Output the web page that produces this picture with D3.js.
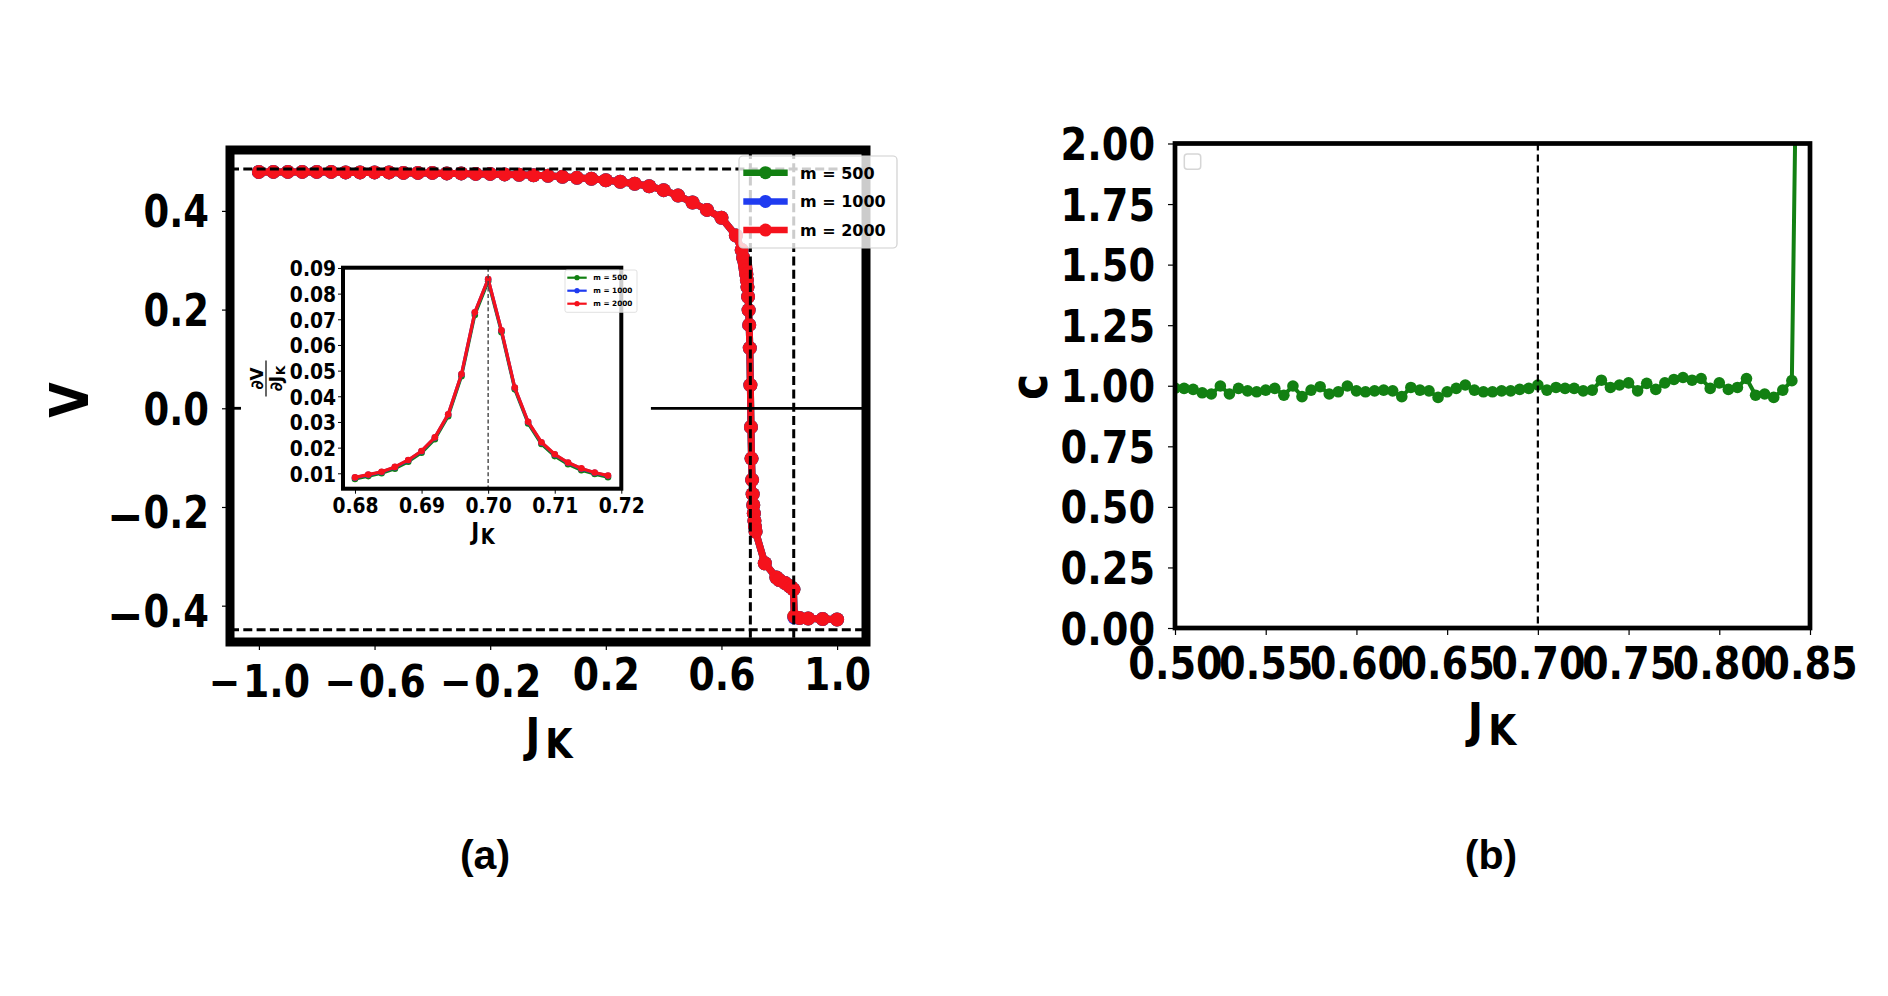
<!DOCTYPE html>
<html><head><meta charset="utf-8">
<script src="https://cdnjs.cloudflare.com/ajax/libs/d3/7.8.5/d3.min.js"></script>
<style>body{margin:0;background:#fff;} svg{display:block}</style>
</head><body>
<script>
// ---------------- DATA ----------------
// Panel (a): V vs J_K
const jkMain = [-1.00,-0.95,-0.90,-0.85,-0.80,-0.75,-0.70,-0.65,-0.60,-0.55,-0.50,-0.45,-0.40,-0.35,-0.30,-0.25,-0.20,
  -0.15,-0.10,-0.05,0.00,0.05,0.10,0.15,0.20,0.25,0.30,0.35,0.40,0.45,0.50,0.55,0.60,0.65,0.67,0.675,
  0.680,0.682,0.684,0.686,0.688,0.690,0.692,0.694,0.696,0.698,0.700,0.702,0.704,0.706,0.708,0.710,0.712,0.714,0.716,0.718,
  0.75,0.79,0.80,0.82,0.835,0.842,0.849,0.852,0.87,0.90,0.95,1.00];
const vM2000 = [0.479,0.479,0.479,0.479,0.479,0.479,0.478,0.478,0.478,0.478,0.477,0.477,0.477,0.476,0.476,0.475,0.475,
  0.474,0.473,0.472,0.471,0.469,0.467,0.465,0.462,0.459,0.455,0.450,0.442,0.431,0.417,0.402,0.386,0.350,0.321,0.305,
  0.296,0.288,0.280,0.271,0.260,0.246,0.226,0.199,0.169,0.122,0.047,-0.038,-0.102,-0.145,-0.174,-0.196,-0.213,-0.228,-0.240,-0.250,
  -0.314,-0.343,-0.348,-0.354,-0.360,-0.363,-0.367,-0.422,-0.425,-0.426,-0.427,-0.428];
const vM1000 = [0.479,0.479,0.479,0.479,0.479,0.479,0.478,0.478,0.478,0.478,0.477,0.477,0.477,0.476,0.476,0.475,0.475,
  0.474,0.473,0.472,0.471,0.469,0.467,0.465,0.462,0.459,0.455,0.450,0.442,0.431,0.417,0.402,0.386,0.350,0.321,0.305,
  0.296,0.288,0.280,0.271,0.260,0.246,0.226,0.199,0.169,0.122,0.047,-0.038,-0.102,-0.145,-0.174,-0.196,-0.213,-0.228,-0.240,-0.250,
  -0.314,-0.343,-0.348,-0.354,-0.360,-0.363,-0.367,-0.424,-0.425,-0.426,-0.427,-0.428];
const vM500 = [0.479,0.479,0.479,0.479,0.479,0.479,0.478,0.478,0.478,0.478,0.477,0.477,0.477,0.476,0.476,0.475,0.475,
  0.474,0.473,0.472,0.471,0.469,0.467,0.465,0.462,0.459,0.455,0.450,0.442,0.431,0.417,0.402,0.386,0.350,0.321,0.305,
  0.296,0.288,0.280,0.271,0.260,0.246,0.226,0.199,0.169,0.122,0.047,-0.038,-0.102,-0.145,-0.174,-0.196,-0.213,-0.228,-0.240,-0.250,
  -0.314,-0.343,-0.348,-0.354,-0.360,-0.363,-0.367,-0.422,-0.425,-0.426,-0.427,-0.428];
const refHLinesA = [0.485, -0.449];
const refVLinesA = [0.70, 0.85];
const zeroLineSegmentsA = [[-1.1, -1.062], [0.356, 1.1]];
const xTicksA = [-1.0, -0.6, -0.2, 0.2, 0.6, 1.0];
const yTicksA = [-0.4, -0.2, 0.0, 0.2, 0.4];

// Inset: dV/dJ_K
const jkInset = [0.680,0.682,0.684,0.686,0.688,0.690,0.692,0.694,0.696,0.698,0.700,0.702,0.704,0.706,0.708,0.710,0.712,0.714,0.716,0.718];
const dvM500  = [0.0078,0.0089,0.0100,0.0118,0.0145,0.0180,0.0233,0.0322,0.0478,0.0717,0.0848,0.0650,0.0427,0.0294,0.0214,0.0167,0.0135,0.0112,0.0097,0.0085];
const dvM1000 = [0.0083,0.0094,0.0105,0.0124,0.0151,0.0186,0.0239,0.0329,0.0486,0.0726,0.0856,0.0656,0.0433,0.0300,0.0220,0.0173,0.0141,0.0118,0.0102,0.0090];
const dvM2000 = [0.0084,0.0095,0.0106,0.0125,0.0152,0.0187,0.0240,0.0330,0.0487,0.0727,0.0857,0.0657,0.0434,0.0301,0.0221,0.0174,0.0142,0.0119,0.0103,0.0091];
const refVLineInset = [0.70];
const xTicksInset = [0.68, 0.69, 0.70, 0.71, 0.72];
const yTicksInset = [0.01,0.02,0.03,0.04,0.05,0.06,0.07,0.08,0.09];

// Panel (b): c vs J_K
const jkC = [0.500,0.505,0.510,0.515,0.520,0.525,0.530,0.535,0.540,0.545,0.550,0.555,0.560,0.565,0.570,0.575,0.580,0.585,0.590,0.595,
  0.600,0.605,0.610,0.615,0.620,0.625,0.630,0.635,0.640,0.645,0.650,0.655,0.660,0.665,0.670,0.675,0.680,0.685,0.690,0.695,
  0.700,0.705,0.710,0.715,0.720,0.725,0.730,0.735,0.740,0.745,0.750,0.755,0.760,0.765,0.770,0.775,0.780,0.785,0.790,0.795,
  0.800,0.805,0.810,0.815,0.820,0.825,0.830,0.835,0.840,0.845];
const cM500 = [0.990,0.989,0.985,0.971,0.966,0.999,0.966,0.989,0.979,0.975,0.982,0.989,0.961,0.999,0.955,0.982,0.996,0.966,0.975,0.999,
  0.979,0.975,0.979,0.982,0.979,0.955,0.993,0.982,0.979,0.952,0.975,0.989,1.003,0.982,0.975,0.975,0.979,0.979,0.985,0.989,
  1.003,0.982,0.993,0.989,0.989,0.979,0.982,1.023,0.993,1.003,1.012,0.979,1.010,0.985,1.012,1.026,1.034,1.023,1.030,0.989,
  1.012,0.985,0.993,1.030,0.961,0.966,0.952,0.982,1.021,3.8];
const refVLineB = [0.70];
const xTicksB = [0.50,0.55,0.60,0.65,0.70,0.75,0.80,0.85];
const yTicksB = [0.00,0.25,0.50,0.75,1.00,1.25,1.50,1.75,2.00];

const legendLabels = ["m = 500", "m = 1000", "m = 2000"];
const seriesColors = ["#128012", "#1f3bf0", "#f5121c"];
const panelLabels = ["(a)", "(b)"];

// ---------------- DRAWING ----------------
const W = 1888, H = 996;
const FONT = '"DejaVu Sans", sans-serif';
const svg = d3.select('body').append('svg').attr('width', W).attr('height', H);

function squeeze(sel, sx) {
  sel.each(function () {
    const t = d3.select(this);
    const x = +(t.attr('x') || 0);
    t.attr('x', x / sx).attr('transform', `scale(${sx},1)`);
  });
}
// minus sign as its own tspan (optionally larger / lowered), digits after a small gap
function wideMinus(sel, fsMinus, dyMinus, gap) {
  sel.each(function (d) {
    if (d >= 0) return;
    const t = d3.select(this);
    const s = t.text();
    t.text('');
    t.append('tspan').attr('font-size', fsMinus).attr('dy', dyMinus).text('−');
    t.append('tspan').attr('dy', -dyMinus).attr('dx', gap).text(s.slice(1));
  });
}
function styleTicks(sel, size, sw) {
  sel.select('.domain').remove();
  sel.selectAll('.tick line').attr('stroke', '#000').attr('stroke-width', sw);
  sel.selectAll('.tick text').attr('fill', '#000').attr('font-family', FONT)
    .attr('font-weight', 'bold').attr('font-size', size).attr('dy', null);
}
function drawSeries(g, xs, ys, xScale, yScale, color, lw, r) {
  const pts = xs.map((x, i) => [x, ys[i]]);
  g.append('path').datum(pts)
    .attr('d', d3.line().x(d => xScale(d[0])).y(d => yScale(d[1])))
    .attr('fill', 'none').attr('stroke', color).attr('stroke-width', lw)
    .attr('stroke-linejoin', 'round');
  g.selectAll(null).data(pts).enter().append('circle')
    .attr('cx', d => xScale(d[0])).attr('cy', d => yScale(d[1])).attr('r', r)
    .attr('fill', color);
}
function subLabel(g, x, y, main, sub, fsMain, fsSub, dySub, dxSub, sx) {
  const t = g.append('text').attr('x', x / sx).attr('y', y)
    .attr('transform', `scale(${sx},1)`)
    .attr('text-anchor', 'middle').attr('font-family', FONT).attr('font-weight', 'bold');
  t.append('tspan').attr('font-size', fsMain).text(main);
  t.append('tspan').attr('font-size', fsSub).attr('dy', dySub).attr('dx', dxSub).text(sub);
  return t;
}

// ======== Panel (a) ========
const A = { x0: 230, x1: 866, y0: 150, y1: 642 };
const xA = d3.scaleLinear().domain([-1.1, 1.1]).range([A.x0, A.x1]);
const yA = d3.scaleLinear().domain([-0.4736, 0.5234]).range([A.y1, A.y0]);
const gA = svg.append('g');
gA.append('clipPath').attr('id', 'clipA').append('rect')
  .attr('x', A.x0).attr('y', A.y0).attr('width', A.x1 - A.x0).attr('height', A.y1 - A.y0);

const axXA = gA.append('g').attr('transform', `translate(0,${A.y1})`)
  .call(d3.axisBottom(xA).tickValues(xTicksA).tickFormat(d3.format('.1f')).tickSize(8).tickSizeOuter(0));
styleTicks(axXA, 44, 1.2);
axXA.selectAll('.tick text').attr('y', d => d < 0 ? 55 : 48).call(wideMinus, 44, 0, 3).call(squeeze, 0.86);

const axYA = gA.append('g').attr('transform', `translate(${A.x0},0)`)
  .call(d3.axisLeft(yA).tickValues(yTicksA).tickFormat(d3.format('.1f')).tickSize(8).tickSizeOuter(0));
styleTicks(axYA, 44, 1.2);
axYA.selectAll('.tick text').attr('x', -21).attr('y', d => d < 0 ? 20.5 : 16).call(wideMinus, 52, 6.5, 0).call(squeeze, 0.84);

const dataA = gA.append('g').attr('clip-path', 'url(#clipA)');
drawSeries(dataA, jkMain, vM500, xA, yA, seriesColors[0], 7, 7);
drawSeries(dataA, jkMain, vM1000, xA, yA, seriesColors[1], 7, 7);
drawSeries(dataA, jkMain, vM2000, xA, yA, seriesColors[2], 7, 7);

// reference lines
const refA = gA.append('g').attr('clip-path', 'url(#clipA)');
refA.selectAll('line.h').data(refHLinesA).enter().append('line')
  .attr('x1', xA(-1.1)).attr('x2', xA(1.1)).attr('y1', d => yA(d)).attr('y2', d => yA(d))
  .attr('stroke', '#000').attr('stroke-width', 3).attr('stroke-dasharray', '9,4.3');
refA.selectAll('line.v').data(refVLinesA).enter().append('line')
  .attr('x1', d => xA(d)).attr('x2', d => xA(d)).attr('y1', A.y0).attr('y2', A.y1)
  .attr('stroke', '#000').attr('stroke-width', 3).attr('stroke-dasharray', '9,4.3');
refA.selectAll('line.z').data(zeroLineSegmentsA).enter().append('line')
  .attr('x1', d => xA(d[0])).attr('x2', d => xA(d[1])).attr('y1', yA(0)).attr('y2', yA(0))
  .attr('stroke', '#000').attr('stroke-width', 2.8);

// frame (a) - drawn before the legend so the legend sits on top
gA.append('rect').attr('x', A.x0).attr('y', A.y0).attr('width', A.x1 - A.x0).attr('height', A.y1 - A.y0)
  .attr('fill', 'none').attr('stroke', '#000').attr('stroke-width', 9);

// axis labels
subLabel(gA, 549, 751, 'J', 'K', 46, 41, 7, 6, 0.86);
gA.append('text').attr('transform', 'translate(68,400) rotate(-90) scale(0.85,1)')
  .attr('text-anchor', 'middle').attr('dy', '0.365em')
  .attr('font-family', FONT).attr('font-weight', 'bold').attr('font-size', 54).text('V');

// ---- Inset ----
const I = { x0: 343, x1: 621.3, y0: 267.7, y1: 488.7 };
const xI = d3.scaleLinear().domain([0.6782, 0.72]).range([I.x0, I.x1]);
const yI = d3.scaleLinear().domain([0.004, 0.0901]).range([I.y1, I.y0]);
const gI = svg.append('g');
gI.append('rect').attr('x', I.x0).attr('y', I.y0).attr('width', I.x1 - I.x0).attr('height', I.y1 - I.y0).attr('fill', '#fff');
gI.append('clipPath').attr('id', 'clipI').append('rect')
  .attr('x', I.x0).attr('y', I.y0).attr('width', I.x1 - I.x0).attr('height', I.y1 - I.y0);
const axXI = gI.append('g').attr('transform', `translate(0,${I.y1})`)
  .call(d3.axisBottom(xI).tickValues(xTicksInset).tickFormat(d3.format('.2f')).tickSize(5).tickSizeOuter(0));
styleTicks(axXI, 21.5, 1);
axXI.selectAll('.tick text').attr('y', 24.5).call(squeeze, 0.87);
const axYI = gI.append('g').attr('transform', `translate(${I.x0},0)`)
  .call(d3.axisLeft(yI).tickValues(yTicksInset).tickFormat(d3.format('.2f')).tickSize(5).tickSizeOuter(0));
styleTicks(axYI, 21.5, 1);
axYI.selectAll('.tick text').attr('x', -7).attr('y', 7.8).call(squeeze, 0.87);

const dataI = gI.append('g').attr('clip-path', 'url(#clipI)');
drawSeries(dataI, jkInset, dvM500, xI, yI, seriesColors[0], 3.2, 3.3);
drawSeries(dataI, jkInset, dvM1000, xI, yI, seriesColors[1], 3.2, 3.3);
drawSeries(dataI, jkInset, dvM2000, xI, yI, seriesColors[2], 3.2, 3.3);
dataI.selectAll('line.v').data(refVLineInset).enter().append('line')
  .attr('x1', d => xI(d)).attr('x2', d => xI(d)).attr('y1', I.y0).attr('y2', I.y1)
  .attr('stroke', '#444').attr('stroke-width', 1.4).attr('stroke-dasharray', '4,2.6');
gI.append('rect').attr('x', I.x0).attr('y', I.y0).attr('width', I.x1 - I.x0).attr('height', I.y1 - I.y0)
  .attr('fill', 'none').attr('stroke', '#000').attr('stroke-width', 4);
subLabel(gI, 483, 540, 'J', 'K', 25, 21, 4, 2, 0.86);
// inset ylabel fraction dV/dJ_K
const frac = gI.append('g').attr('transform', 'translate(266,378.5) rotate(-90)');
frac.append('text').attr('x', 0).attr('y', -3.5).attr('text-anchor', 'middle')
  .attr('font-family', FONT).attr('font-weight', 'bold').attr('font-size', 17).text('∂V');
frac.append('line').attr('x1', -18).attr('x2', 18).attr('y1', 0).attr('y2', 0).attr('stroke', '#000').attr('stroke-width', 1.2);
const den = frac.append('text').attr('x', 0).attr('y', 15.5).attr('text-anchor', 'middle')
  .attr('font-family', FONT).attr('font-weight', 'bold').attr('font-size', 17);
den.append('tspan').text('∂J');
den.append('tspan').attr('font-size', 12).attr('dy', 3).attr('dx', 1).text('K');

// inset legend
const lgI = gI.append('g');
lgI.append('rect').attr('x', 565).attr('y', 270).attr('width', 72).attr('height', 42.3).attr('rx', 2)
  .attr('fill', '#fff').attr('fill-opacity', 0.8).attr('stroke', '#d9d9d9').attr('stroke-width', 0.8);
legendLabels.forEach((lab, i) => {
  const yy = 277.7 + i * 13;
  lgI.append('line').attr('x1', 567.3).attr('x2', 586.7).attr('y1', yy).attr('y2', yy)
    .attr('stroke', seriesColors[i]).attr('stroke-width', 2.2);
  lgI.append('circle').attr('cx', 577).attr('cy', yy).attr('r', 2.6).attr('fill', seriesColors[i]);
  lgI.append('text').attr('x', 593.3).attr('y', yy + 2.7).attr('font-family', FONT).attr('font-weight', 'bold')
    .attr('font-size', 7.3).text(lab);
});

// main legend (on top of frame and reference lines)
const lgA = svg.append('g');
lgA.append('rect').attr('x', 739).attr('y', 156).attr('width', 158).attr('height', 92).attr('rx', 4)
  .attr('fill', '#fff').attr('fill-opacity', 0.8).attr('stroke', '#d0d0d0').attr('stroke-width', 1.2);
legendLabels.forEach((lab, i) => {
  const yy = 172.7 + i * 28.7;
  lgA.append('line').attr('x1', 743.3).attr('x2', 787.7).attr('y1', yy).attr('y2', yy)
    .attr('stroke', seriesColors[i]).attr('stroke-width', 6.5);
  lgA.append('circle').attr('cx', 765.5).attr('cy', yy).attr('r', 6.5).attr('fill', seriesColors[i]);
  lgA.append('text').attr('x', 800).attr('y', yy + 6).attr('font-family', FONT).attr('font-weight', 'bold')
    .attr('font-size', 16).text(lab);
});

// ======== Panel (b) ========
const B = { x0: 1175, x1: 1810, y0: 143.5, y1: 628 };
const xB = d3.scaleLinear().domain([0.5, 0.85]).range([B.x0, B.x1]);
const yB = d3.scaleLinear().domain([0, 2]).range([B.y1, B.y0]);
const gB = svg.append('g');
gB.append('clipPath').attr('id', 'clipB').append('rect')
  .attr('x', B.x0).attr('y', B.y0).attr('width', B.x1 - B.x0).attr('height', B.y1 - B.y0);
const axXB = gB.append('g').attr('transform', `translate(0,${B.y1})`)
  .call(d3.axisBottom(xB).tickValues(xTicksB).tickFormat(d3.format('.2f')).tickSize(7).tickSizeOuter(0));
styleTicks(axXB, 44, 1.2);
axXB.selectAll('.tick text').attr('y', 51).call(squeeze, 0.87);
const axYB = gB.append('g').attr('transform', `translate(${B.x0},0)`)
  .call(d3.axisLeft(yB).tickValues(yTicksB).tickFormat(d3.format('.2f')).tickSize(7).tickSizeOuter(0));
styleTicks(axYB, 44, 1.2);
axYB.selectAll('.tick text').attr('x', -20).attr('y', 16).call(squeeze, 0.87);

const dataB = gB.append('g').attr('clip-path', 'url(#clipB)');
drawSeries(dataB, jkC, cM500, xB, yB, seriesColors[0], 4, 5.8);
dataB.selectAll('line.v').data(refVLineB).enter().append('line')
  .attr('x1', d => xB(d)).attr('x2', d => xB(d)).attr('y1', B.y0).attr('y2', B.y1)
  .attr('stroke', '#000').attr('stroke-width', 2.2).attr('stroke-dasharray', '7,4');
// empty legend box
gB.append('rect').attr('x', 1184.3).attr('y', 154).attr('width', 16.4).attr('height', 15.3).attr('rx', 3)
  .attr('fill', '#fff').attr('stroke', '#d6d6d6').attr('stroke-width', 1.5);
gB.append('rect').attr('x', B.x0).attr('y', B.y0).attr('width', B.x1 - B.x0).attr('height', B.y1 - B.y0)
  .attr('fill', 'none').attr('stroke', '#000').attr('stroke-width', 4.7);
subLabel(gB, 1492, 737, 'J', 'K', 48, 42, 8, 6, 0.86);
gB.append('text').attr('transform', 'translate(1032,387) rotate(-90) scale(0.85,1)')
  .attr('text-anchor', 'middle').attr('dy', '0.28em')
  .attr('font-family', FONT).attr('font-weight', 'bold').attr('font-size', 52).text('c');

// panel captions
const capX = [485, 1491];
svg.selectAll('text.cap').data(panelLabels).enter().append('text').attr('class', 'cap')
  .attr('x', (d, i) => capX[i]).attr('y', 869).attr('text-anchor', 'middle')
  .attr('font-family', '"Liberation Sans", Arial, sans-serif').attr('font-weight', 'bold')
  .attr('font-size', 41).text(d => d);
</script>
</body></html>
